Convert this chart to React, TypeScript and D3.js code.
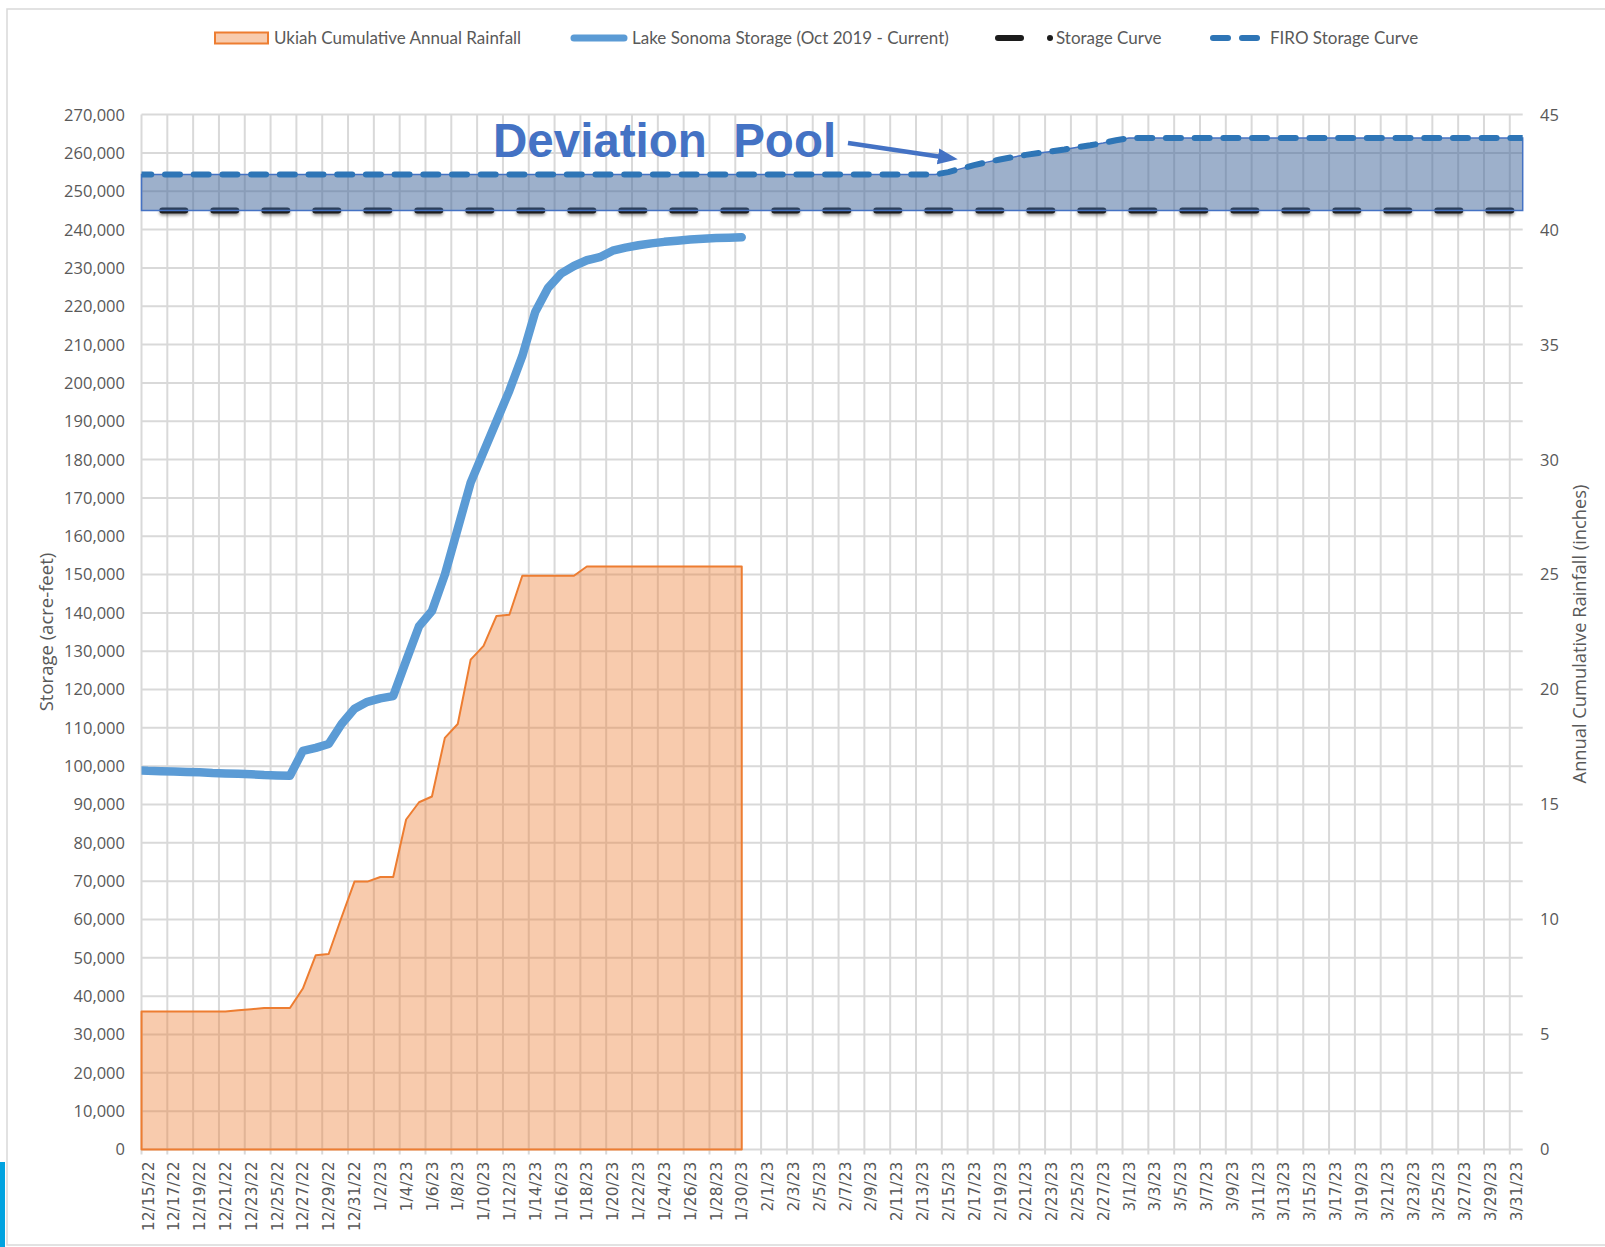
import React, { useRef, useEffect } from 'react';
import * as d3 from 'd3';

type Knot = [string, number];

// Daily series start one day before the axis, the plot edge cuts that day off
const seriesStart = '12/14/22';

// Lake Sonoma storage (acre-feet), 12/14/22 - 1/30/23
const lakeSonomaStorage = [
  98900, 98800, 98700, 98600, 98500, 98400, 98200, 98100, 98000, 97900,
  97700, 97600, 97500, 104000, 104800, 105800, 111000, 115000,
  116800, 117700, 118300, 127500, 136500, 140500, 150000, 162000, 174000, 182000,
  190000, 198000, 207000, 218500, 224800, 228500, 230500, 232000, 232800, 234500,
  235300, 235900, 236400, 236800, 237100, 237400, 237600, 237800, 237900, 238000,
];

// Ukiah cumulative annual rainfall (inches), 12/14/22 - 1/30/23
const ukiahRainfall = [
  6.0, 6.0, 6.0, 6.0, 6.0, 6.0, 6.0, 6.0, 6.05, 6.1,
  6.15, 6.15, 6.15, 7.0, 8.45, 8.5, 10.1, 11.65,
  11.65, 11.85, 11.85, 14.35, 15.1, 15.35, 17.9, 18.5, 21.3, 21.9,
  23.2, 23.25, 24.95, 24.95, 24.95, 24.95, 24.95, 25.35, 25.35, 25.35,
  25.35, 25.35, 25.35, 25.35, 25.35, 25.35, 25.35, 25.35, 25.35, 25.35,
];

// Rule curves (acre-feet)
const storageCurve: Knot[] = [
  ['12/14/22', 245000],
  ['4/1/23', 245000],
];

const firoStorageCurve: Knot[] = [
  ['12/14/22', 254400],
  ['2/14/23', 254400],
  ['2/15/23', 255000],
  ['2/16/23', 255900],
  ['2/17/23', 256800],
  ['2/18/23', 257600],
  ['2/19/23', 258300],
  ['2/20/23', 258900],
  ['2/21/23', 259500],
  ['2/22/23', 260000],
  ['2/23/23', 260400],
  ['2/24/23', 260900],
  ['2/25/23', 261500],
  ['2/26/23', 262000],
  ['2/27/23', 262600],
  ['2/28/23', 263300],
  ['3/1/23', 263900],
  ['4/1/23', 263900],
];

const xTickLabels = [
  '12/15/22', '12/17/22', '12/19/22', '12/21/22', '12/23/22', '12/25/22', '12/27/22', '12/29/22', '12/31/22',
  '1/2/23', '1/4/23', '1/6/23', '1/8/23', '1/10/23', '1/12/23', '1/14/23', '1/16/23', '1/18/23',
  '1/20/23', '1/22/23', '1/24/23', '1/26/23', '1/28/23', '1/30/23',
  '2/1/23', '2/3/23', '2/5/23', '2/7/23', '2/9/23', '2/11/23', '2/13/23', '2/15/23', '2/17/23',
  '2/19/23', '2/21/23', '2/23/23', '2/25/23', '2/27/23',
  '3/1/23', '3/3/23', '3/5/23', '3/7/23', '3/9/23', '3/11/23', '3/13/23', '3/15/23', '3/17/23',
  '3/19/23', '3/21/23', '3/23/23', '3/25/23', '3/27/23', '3/29/23', '3/31/23',
];

const storageTicks = [
  0, 10000, 20000, 30000, 40000, 50000, 60000, 70000, 80000, 90000,
  100000, 110000, 120000, 130000, 140000, 150000, 160000, 170000, 180000, 190000,
  200000, 210000, 220000, 230000, 240000, 250000, 260000, 270000,
];
const rainfallTicks = [0, 5, 10, 15, 20, 25, 30, 35, 40, 45];

const legendLabels = [
  'Ukiah Cumulative Annual Rainfall',
  'Lake Sonoma Storage (Oct 2019 - Current)',
  'Storage Curve',
  'FIRO Storage Curve',
];

const LakeSonomaChart = () => {
  const chartRef = useRef<SVGSVGElement | null>(null);
  const width = 1605;
  const height = 1247;
  const plot = { left: 141.5, right: 1522.7, top: 114.6, bottom: 1149.5 };

  useEffect(() => {
    if (!chartRef.current) return;
    const svg = d3.select(chartRef.current);
    svg.selectAll('*').remove();

    const parse = d3.utcParse('%m/%d/%y');
    const tickDates = xTickLabels.map((d) => parse(d) as Date);
    const start = parse(seriesStart) as Date;
    const dayAt = (i: number) => d3.utcDay.offset(start, i);

    // category axis: each day is one slot, labels sit mid-slot
    const x = d3
      .scaleUtc()
      .domain([
        d3.utcHour.offset(tickDates[0], -12),
        d3.utcHour.offset(tickDates[tickDates.length - 1], 12),
      ])
      .range([plot.left, plot.right])
      .clamp(true);

    const yL = d3.scaleLinear().domain([0, 270000]).range([plot.bottom, plot.top]);
    const yR = d3.scaleLinear().domain([0, 45]).range([plot.bottom, plot.top]);

    const storageCurveAt = d3
      .scaleUtc()
      .domain(storageCurve.map((k) => parse(k[0]) as Date))
      .range(storageCurve.map((k) => k[1]));

    const defs = svg.append('defs');
    defs
      .append('clipPath')
      .attr('id', 'plot-clip')
      .append('rect')
      .attr('x', plot.left)
      .attr('y', plot.top - 20)
      .attr('width', plot.right - plot.left)
      .attr('height', plot.bottom - plot.top + 20);

    // a horizontal line has a zero-height bbox, so the filter region is in user space
    const shadow = defs
      .append('filter')
      .attr('id', 'dash-shadow')
      .attr('filterUnits', 'userSpaceOnUse')
      .attr('x', 0)
      .attr('y', 0)
      .attr('width', width)
      .attr('height', height);
    shadow
      .append('feDropShadow')
      .attr('dx', 0)
      .attr('dy', 2)
      .attr('stdDeviation', 1.5)
      .attr('flood-color', '#000')
      .attr('flood-opacity', 0.4);

    defs
      .append('marker')
      .attr('id', 'arrow-head')
      .attr('markerUnits', 'userSpaceOnUse')
      .attr('markerWidth', 22)
      .attr('markerHeight', 18)
      .attr('refX', 4)
      .attr('refY', 9)
      .attr('orient', 'auto')
      .append('path')
      .attr('d', 'M0,1 L20,9 L0,17 Z')
      .attr('fill', '#4472C4');

    // page background + frame
    svg.append('rect').attr('width', width).attr('height', height).attr('fill', '#fff');
    svg
      .append('rect')
      .attr('x', 7)
      .attr('y', 9)
      .attr('width', width + 20)
      .attr('height', 1236)
      .attr('fill', 'none')
      .attr('stroke', '#D9D9D9')
      .attr('stroke-width', 1.5);
    svg.append('rect').attr('x', 0).attr('y', 1162).attr('width', 5).attr('height', 85).attr('fill', '#00A3E0');

    const g = svg.append('g');

    // horizontal gridlines
    g.selectAll('.h-grid')
      .data(storageTicks)
      .enter()
      .append('line')
      .attr('x1', plot.left)
      .attr('x2', plot.right)
      .attr('y1', (d) => yL(d))
      .attr('y2', (d) => yL(d))
      .attr('stroke', '#D9D9D9')
      .attr('stroke-width', 2);

    // vertical gridlines at every second slot boundary, with small ticks below the axis
    g.selectAll('.v-grid')
      .data(tickDates)
      .enter()
      .append('line')
      .attr('x1', (d) => x(d3.utcHour.offset(d, -12)))
      .attr('x2', (d) => x(d3.utcHour.offset(d, -12)))
      .attr('y1', plot.top)
      .attr('y2', plot.bottom + 5)
      .attr('stroke', '#D9D9D9')
      .attr('stroke-width', 2);

    // rainfall area (secondary axis)
    const rainArea = d3
      .area<number>()
      .x((_, i) => x(dayAt(i)))
      .y0(plot.bottom)
      .y1((d) => yR(d));
    g.append('path')
      .datum(ukiahRainfall)
      .attr('d', rainArea)
      .attr('fill', '#ED7D31')
      .attr('fill-opacity', 0.4)
      .attr('stroke', '#ED7D31')
      .attr('stroke-width', 2)
      .attr('stroke-linejoin', 'round');

    const knotLine = d3
      .line<Knot>()
      .x((d) => x(parse(d[0]) as Date))
      .y((d) => yL(d[1]));

    const clipped = g.append('g').attr('clip-path', 'url(#plot-clip)');

    // storage curve (black long dash)
    clipped
      .append('path')
      .datum(storageCurve)
      .attr('d', knotLine)
      .attr('fill', 'none')
      .attr('stroke', '#1C1C1C')
      .attr('stroke-width', 6)
      .attr('stroke-linecap', 'round')
      .attr('stroke-dasharray', '23 28')
      .attr('stroke-dashoffset', 30.2)
      .attr('filter', 'url(#dash-shadow)');

    // deviation pool band between the two curves
    const band = d3
      .area<Knot>()
      .x((d) => x(parse(d[0]) as Date))
      .y0((d) => yL(storageCurveAt(parse(d[0]) as Date)))
      .y1((d) => yL(d[1]));
    g.append('path')
      .datum(firoStorageCurve)
      .attr('d', band)
      .attr('fill', '#3B6197')
      .attr('fill-opacity', 0.5)
      .attr('stroke', '#4472C4')
      .attr('stroke-width', 1.5);

    // FIRO storage curve
    const clipped2 = g.append('g').attr('clip-path', 'url(#plot-clip)');
    clipped2
      .append('path')
      .datum(firoStorageCurve)
      .attr('d', knotLine)
      .attr('fill', 'none')
      .attr('stroke', '#2E75B6')
      .attr('stroke-width', 6)
      .attr('stroke-linecap', 'round')
      .attr('stroke-linejoin', 'round')
      .attr('stroke-dasharray', '15 13.7')
      .attr('stroke-dashoffset', 5.2);

    // Lake Sonoma storage
    const storageLine = d3
      .line<number>()
      .x((_, i) => x(dayAt(i)))
      .y((d) => yL(d));
    clipped2
      .append('path')
      .datum(lakeSonomaStorage)
      .attr('d', storageLine)
      .attr('fill', 'none')
      .attr('stroke', '#5B9BD5')
      .attr('stroke-width', 8.5)
      .attr('stroke-linecap', 'round')
      .attr('stroke-linejoin', 'round');

    // annotation
    svg
      .append('text')
      .attr('x', 493)
      .attr('y', 157)
      .style('white-space', 'pre')
      .style('font-family', "'Liberation Sans', Arial, sans-serif")
      .style('font-weight', 'bold')
      .style('font-size', '47.5px')
      .style('fill', '#4472C4')
      .text('Deviation  Pool');
    svg
      .append('line')
      .attr('x1', 848)
      .attr('y1', 143)
      .attr('x2', 942)
      .attr('y2', 157)
      .attr('stroke', '#4472C4')
      .attr('stroke-width', 4.5)
      .attr('marker-end', 'url(#arrow-head)');

    // axis labels
    const tickFont = "'Open Sans', sans-serif";
    svg
      .append('g')
      .selectAll('text')
      .data(storageTicks)
      .enter()
      .append('text')
      .attr('x', 125)
      .attr('y', (d) => yL(d))
      .attr('dy', '0.36em')
      .attr('text-anchor', 'end')
      .style('font-family', tickFont)
      .style('font-size', '16.5px')
      .style('fill', '#595959')
      .text((d) => d3.format(',')(d));

    svg
      .append('g')
      .selectAll('text')
      .data(rainfallTicks)
      .enter()
      .append('text')
      .attr('x', 1540)
      .attr('y', (d) => yR(d))
      .attr('dy', '0.36em')
      .style('font-family', tickFont)
      .style('font-size', '16.5px')
      .style('fill', '#595959')
      .text((d) => d);

    svg
      .append('g')
      .selectAll('text')
      .data(tickDates)
      .enter()
      .append('text')
      .attr('transform', (d) => `translate(${x(d)},${plot.bottom + 12}) rotate(-90)`)
      .attr('dy', '0.36em')
      .attr('text-anchor', 'end')
      .style('font-family', "'DejaVu Sans', sans-serif")
      .style('font-size', '15.5px')
      .style('fill', '#595959')
      .text((_, i) => xTickLabels[i]);

    svg
      .append('text')
      .attr('transform', `translate(46,${(plot.top + plot.bottom) / 2}) rotate(-90)`)
      .attr('text-anchor', 'middle')
      .attr('dy', '0.36em')
      .style('font-family', tickFont)
      .style('font-size', '18.5px')
      .style('fill', '#595959')
      .text('Storage (acre-feet)');

    svg
      .append('text')
      .attr('transform', `translate(1579,${(plot.top + plot.bottom) / 2 + 2}) rotate(-90)`)
      .attr('text-anchor', 'middle')
      .attr('dy', '0.36em')
      .style('font-family', tickFont)
      .style('font-size', '18.3px')
      .style('fill', '#595959')
      .text('Annual Cumulative Rainfall (inches)');

    // legend
    const legendY = 38;
    const legend = svg.append('g');
    const legendText = (tx: number, label: string) =>
      legend
        .append('text')
        .attr('x', tx)
        .attr('y', legendY)
        .attr('dy', '0.36em')
        .style('font-family', "Lato, 'Open Sans', sans-serif")
        .style('font-size', '17px')
        .style('fill', '#595959')
        .text(label);

    legend
      .append('rect')
      .attr('x', 215)
      .attr('y', legendY - 5.5)
      .attr('width', 53)
      .attr('height', 11)
      .attr('fill', '#F8CBAD')
      .attr('stroke', '#ED7D31')
      .attr('stroke-width', 2);
    legendText(274, legendLabels[0]);

    legend
      .append('line')
      .attr('x1', 574)
      .attr('x2', 624)
      .attr('y1', legendY)
      .attr('y2', legendY)
      .attr('stroke', '#5B9BD5')
      .attr('stroke-width', 7)
      .attr('stroke-linecap', 'round');
    legendText(632, legendLabels[1]);

    legend
      .append('line')
      .attr('x1', 998)
      .attr('x2', 1021)
      .attr('y1', legendY)
      .attr('y2', legendY)
      .attr('stroke', '#1C1C1C')
      .attr('stroke-width', 6)
      .attr('stroke-linecap', 'round');
    legend.append('circle').attr('cx', 1050).attr('cy', legendY).attr('r', 3).attr('fill', '#1C1C1C');
    legendText(1056, legendLabels[2]);

    [1213, 1242].forEach((lx) => {
      legend
        .append('line')
        .attr('x1', lx)
        .attr('x2', lx + 15)
        .attr('y1', legendY)
        .attr('y2', legendY)
        .attr('stroke', '#2E75B6')
        .attr('stroke-width', 6)
        .attr('stroke-linecap', 'round');
    });
    legendText(1270, legendLabels[3]);
  }, []);

  return (
    <svg
      ref={chartRef}
      width={width}
      height={height}
      style={{ position: 'absolute', left: 0, top: 0, display: 'block' }}
    />
  );
};

export default function App() {
  return <LakeSonomaChart />;
}
